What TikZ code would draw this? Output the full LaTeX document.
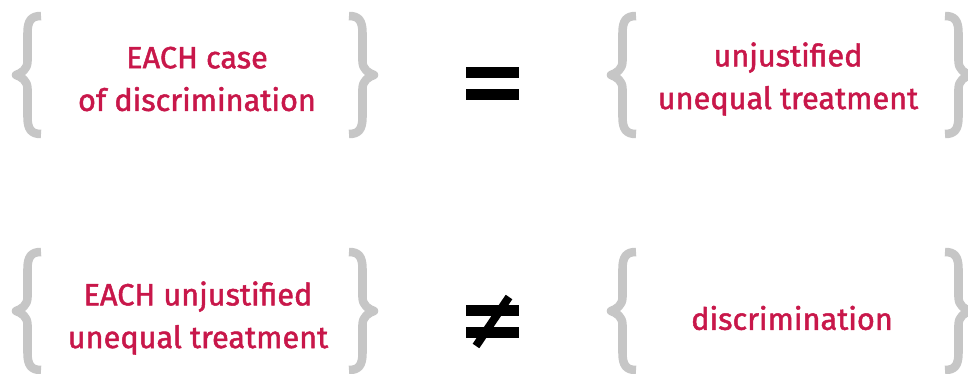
\documentclass[tikz,border=0pt]{standalone}
\usepackage{fontspec}
\setmainfont{Fira Sans}[FakeBold=1.6]
\definecolor{crimson}{HTML}{C8174A}
\definecolor{bracegray}{HTML}{C6C6C6}
\tikzset{
  curly/.style={bracegray,line width=6.4pt,line join=round},
  phrase/.style={crimson,align=center,font=\fontsize{23}{32}\selectfont},
  bar/.style={fill=black}
}
\begin{document}
\begin{tikzpicture}[x=0.75pt,y=-0.75pt]
\useasboundingbox (0,0) rectangle (968,374);
% curly braces round each phrase
\foreach \cx/\cy/\s in {16/75/1,374/75/-1,611/75/1,970/75/-1,16/311/1,374/311/-1,611/311/1,970/311/-1}
  \draw[curly,shift={(\cx,\cy)},xscale=\s] (25,-59) .. controls (15,-59) and (11.5,-54) .. (11.5,-42)
    -- (11.5,-14) .. controls (11.5,-5) and (5,-2) .. (0,0) .. controls (5,2) and (11.5,5) .. (11.5,14)
    -- (11.5,42) .. controls (11.5,54) and (15,59) .. (25,59);
% phrases
\node[phrase] (eachcase) at (197,79) {EACH case\\of discrimination};
\node[phrase] (unjust) at (788,79) {unjustified\\unequal treatment};
\node[phrase] (eachunjust) at (198,318) {EACH unjustified\\unequal treatment};
\node[phrase] (discr) at (792,318) {discrimination};
% equal sign
\fill[bar] (466,67) rectangle (519,78);
\fill[bar] (466,89) rectangle (519,100);
% not equal sign
\fill[bar] (466,305) rectangle (519,316);
\fill[bar] (466,327) rectangle (519,338);
\draw[line width=6pt] (476,346) -- (509,297);
\end{tikzpicture}
\end{document}
